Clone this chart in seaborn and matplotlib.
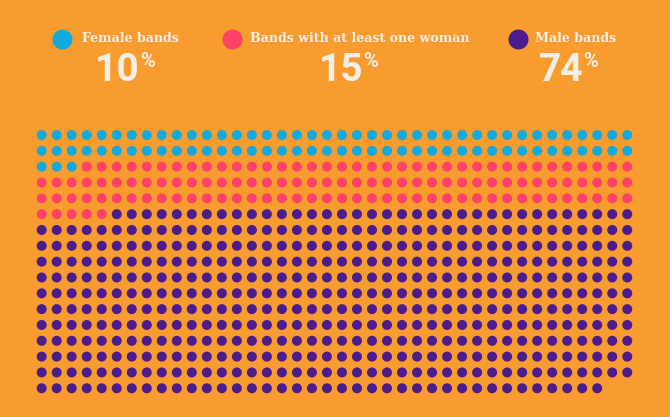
import matplotlib.pyplot as plt
import numpy as np
import pandas as pd
import seaborn as sns

# dot counts per group (40 dots per row)
categories = ["Female bands", "Bands with at least one woman", "Male bands"]
dot_counts = [83, 122, 473]
percent_labels = ["10", "15", "74"]
colors = ["#12AADC", "#FF4266", "#4A1C8E"]
n_cols = 40

BG = "#F99C2F"
TXT = "#F3EEE6"


def main():
    cats = np.repeat(categories, dot_counts)
    idx = np.arange(len(cats))
    df = pd.DataFrame({"col": idx % n_cols, "row": idx // n_cols, "group": cats})
    n_rows = df["row"].max() + 1

    fig = plt.figure(figsize=(6.7, 4.17), dpi=100, facecolor=BG)

    # grid axes
    ax = fig.add_axes([0.051, 0.0499, 0.8964, 0.6453])
    ax.set_facecolor(BG)
    sns.scatterplot(
        data=df,
        x="col",
        y="row",
        hue="group",
        hue_order=categories,
        palette=colors,
        s=52,
        linewidth=0,
        legend=False,
        ax=ax,
    )
    ax.set_xlim(-0.5, n_cols - 0.5)
    ax.set_ylim(n_rows - 0.5, -0.5)
    ax.axis("off")

    # header overlay in pixel coords
    hx = fig.add_axes([0, 0, 1, 1], zorder=-1)
    hx.set_xlim(0, 670)
    hx.set_ylim(417, 0)
    hx.axis("off")
    hx.patch.set_alpha(0)

    dot_x = [62.3, 231.7, 517.7]
    text_x = [81.7, 250, 535]
    num_right = [140, 363, 583]
    for i, name in enumerate(categories):
        hx.scatter(dot_x[i], 39, s=207, color=colors[i], linewidth=0)
        hx.text(text_x[i], 38, name, ha="left", va="center", color=TXT,
                fontsize=9.1, fontweight="bold", family="DejaVu Serif")
        hx.text(num_right[i], 81, percent_labels[i], ha="right", va="baseline",
                color=TXT, fontsize=28, fontweight="bold", family="Roboto")
        hx.text(num_right[i] + 0.5, 67, "%", ha="left", va="baseline",
                color=TXT, fontsize=14.5, fontweight="bold", family="Roboto")

    fig.savefig("out.png", dpi=100, facecolor=BG)


if __name__ == "__main__":
    main()
